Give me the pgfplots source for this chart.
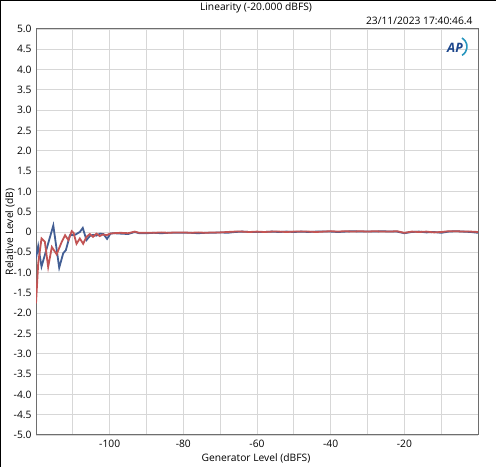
\documentclass[border=0pt]{standalone}
\usepackage{fontspec}
\setmainfont{Open Sans}
\usepackage{pgfplots}
\pgfplotsset{compat=1.18}
\definecolor{chblue}{RGB}{66,94,148}
\definecolor{chred}{RGB}{194,84,84}
\definecolor{gridgray}{RGB}{215,215,215}
\definecolor{framegray}{RGB}{110,110,110}
\definecolor{apblue}{RGB}{28,70,140}
\definecolor{apteal}{RGB}{40,150,190}

\begin{document}
\begin{tikzpicture}[x=1bp,y=1bp,font=\fontsize{10.3}{12}\selectfont]
\useasboundingbox (0,0) rectangle (496,467);
\draw[black,line width=1.2bp] (0.6,0) -- (0.6,466.4) -- (496,466.4);

\begin{axis}[
  at={(36bp,32bp)}, anchor=south west,
  scale only axis,
  width=442bp, height=406bp,
  xmin=-120, xmax=0,
  ymin=-5, ymax=5,
  xtick={-100,-80,-60,-40,-20},
  minor xtick={-110,-90,-70,-50,-30,-10},
  ytick={-5,-4.5,...,5},
  yticklabels={-5.0,-4.5,-4.0,-3.5,-3.0,-2.5,-2.0,-1.5,-1.0,-0.5,0,0.5,1.0,1.5,2.0,2.5,3.0,3.5,4.0,4.5,5.0},
  xticklabels={-100,-80,-60,-40,-20},
  major tick length=0pt, minor tick length=0pt,
  grid=both,
  major grid style={gridgray,line width=0.8bp},
  minor grid style={gridgray,line width=0.8bp},
  axis line style={framegray,line width=1bp},
  tick label style={font=\fontsize{10.3}{12}\selectfont},
  yticklabel style={xshift=-1bp},
  xticklabel style={yshift=-2bp},
  /pgf/number format/assume math mode=true,
  clip=true,
]
\addplot[chblue,line width=1.8bp] coordinates {
  (-120.0,-0.65) (-119.4,-0.35) (-118.5,-0.85) (-115.3,0.16) (-113.7,-0.88)
  (-112.6,-0.52) (-111.9,-0.45) (-110.8,-0.08) (-109.4,-0.07) (-108.1,0.00)
  (-107.3,0.10) (-106.3,-0.20) (-105.4,-0.10) (-104.5,-0.07) (-103.6,-0.09)
  (-102.6,-0.04) (-101.7,-0.05) (-100.7,-0.17) (-99.8,-0.04) (-98.9,-0.03)
  (-97,-0.04) (-95,-0.05) (-93.2,0.00) (-92,-0.03) (-90,-0.03) (-88,-0.02)
  (-86,-0.03) (-84,-0.02) (-82,-0.02) (-80,-0.02) (-78,-0.02) (-76,-0.03)
  (-74,-0.02) (-72,-0.02) (-70,-0.01) (-68,-0.02) (-66,0.00) (-64,0.01)
  (-62,0.00) (-60,0.00) (-58,0.00) (-56,0.01) (-54,0.00) (-52,0.01)
  (-50,0.00) (-48,0.01) (-46,0.00) (-44,0.01) (-42,0.01) (-40,0.01)
  (-38,0.00) (-36,0.01) (-34,0.02) (-32,0.01) (-30,0.01) (-28,0.01)
  (-26,0.02) (-24,0.01) (-22,0.01) (-20,-0.03) (-18,0.00) (-16,0.01)
  (-14,-0.01) (-12,0.00) (-10,-0.02) (-8,0.01) (-6,0.02) (-4,0.01)
  (-2,0.00) (0,-0.02)
};
\addplot[chred,line width=1.8bp] coordinates {
  (-120.0,-1.76) (-119.4,-0.77) (-118.5,-0.16) (-117.6,-0.24) (-116.7,-0.86)
  (-115.7,-0.37) (-114.4,-0.55) (-113.0,-0.24) (-112.1,-0.08) (-111.2,-0.20)
  (-110.3,0.02) (-109.8,-0.02) (-109.0,-0.29) (-108.1,-0.16) (-107.2,-0.29)
  (-106.3,-0.12) (-105.4,-0.05) (-104.5,-0.12) (-103.6,-0.04) (-102.7,-0.10)
  (-101.8,-0.06) (-100.8,-0.08) (-99.9,-0.04) (-99,-0.03) (-97,-0.02)
  (-95,-0.03) (-93.2,0.01) (-92,-0.02) (-90,-0.02) (-88,-0.02) (-86,-0.01)
  (-84,-0.02) (-82,-0.01) (-80,-0.01) (-78,-0.02) (-76,-0.01) (-74,-0.02)
  (-72,-0.01) (-70,-0.01) (-68,0.00) (-66,0.01) (-64,0.01) (-62,0.00)
  (-60,0.01) (-58,0.00) (-56,0.01) (-54,0.01) (-52,0.00) (-50,0.01)
  (-48,0.01) (-46,0.01) (-44,0.00) (-42,0.01) (-40,0.02) (-38,0.01)
  (-36,0.02) (-34,0.01) (-32,0.02) (-30,0.01) (-28,0.02) (-26,0.01)
  (-24,0.01) (-22,0.02) (-20,-0.02) (-18,0.01) (-16,0.00) (-14,0.01)
  (-12,-0.01) (-10,0.00) (-8,0.02) (-6,0.02) (-4,0.01) (-2,0.01) (0,0.00)
};
\end{axis}

\node at (256,459) {Linearity (-20.000 dBFS)};
\node[anchor=east] at (476,446) {23/11/2023 17:40:46.4};
\node[rotate=90] at (10,235) {Relative Level (dB)};
\node at (256,9) {Generator Level (dBFS)};
% AP logo
\node[apblue,font=\fontsize{13}{13}\selectfont\bfseries\itshape] at (455,419) {AP};
\draw[apteal,line width=1.6bp] (462,429) arc[start angle=60,end angle=-60,radius=10];
\end{tikzpicture}
\end{document}
